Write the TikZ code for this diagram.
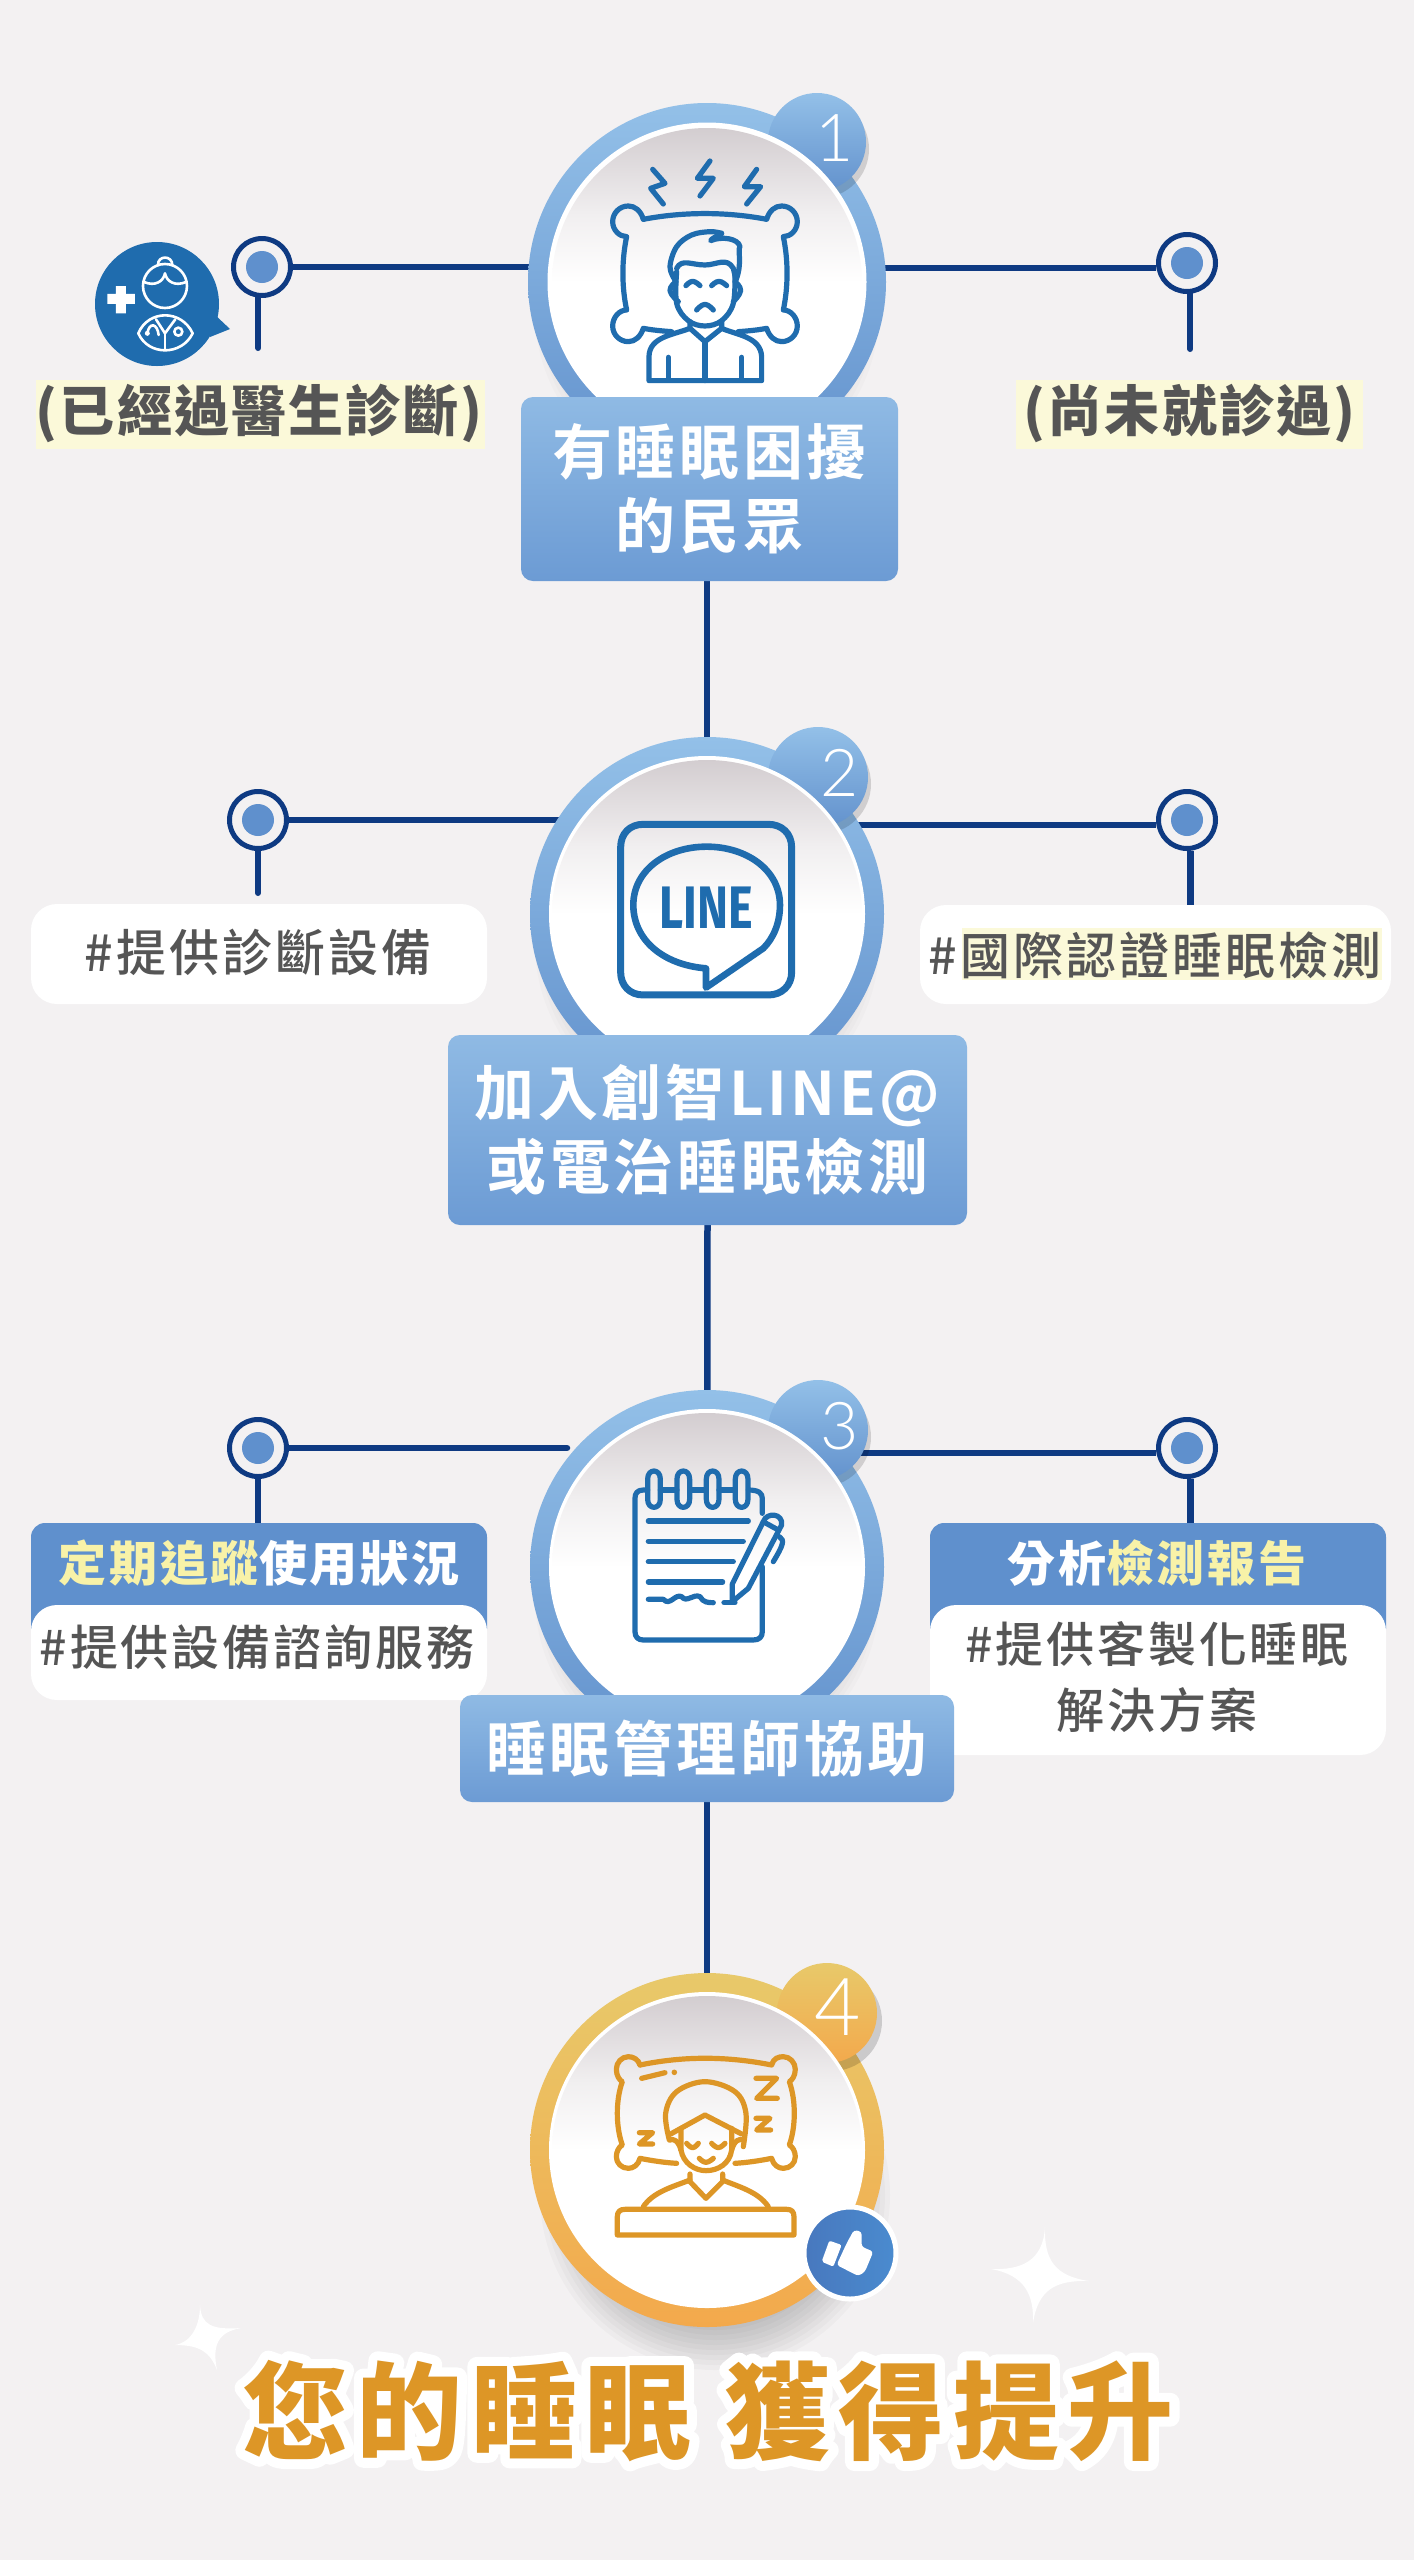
\documentclass[tikz,border=0pt]{standalone}
\usepackage{fontspec}
\setmainfont{Noto Sans CJK TC}
\newfontfamily\boxf{Noto Sans CJK TC}[BoldFont=* Bold,LetterSpace=6]
\newfontfamily\subf{Noto Sans CJK TC}[UprightFont=* Medium,LetterSpace=6]
\newfontfamily\lblf{Noto Sans CJK TC}[LetterSpace=4]
\newfontfamily\titlef{Noto Sans CJK TC}[UprightFont=* Black,LetterSpace=8]
\newfontfamily\halof{Noto Sans CJK TC}[UprightFont=* Black,LetterSpace=8,FakeBold=18]
\newfontfamily\thinf{Lato}[UprightFont=* Light]
\newfontfamily\linef{Fira Sans}
\definecolor{bgc}{HTML}{F3F1F2}
\definecolor{navy}{HTML}{0E3A82}
\definecolor{blueT}{HTML}{93C0E8}
\definecolor{blueB}{HTML}{6392CD}
\definecolor{boxT}{HTML}{8FBAE4}
\definecolor{boxB}{HTML}{6C9BD4}
\definecolor{dotb}{HTML}{5F90CD}
\definecolor{icob}{HTML}{1F6CAE}
\definecolor{goldT}{HTML}{E8C96A}
\definecolor{goldB}{HTML}{F3A94C}
\definecolor{icog}{HTML}{DD9626}
\definecolor{txt}{HTML}{555555}
\definecolor{hlc}{HTML}{FBF9D9}
\definecolor{yel}{HTML}{F8F2A8}
\definecolor{innertop}{HTML}{D3CDD0}
\definecolor{innermid}{HTML}{F1EFF0}
\definecolor{thL}{HTML}{4878BE}
\definecolor{thR}{HTML}{4A8BCF}
\pgfdeclareverticalshading{innerdisc}{100bp}{color(0bp)=(white);color(50bp)=(white);color(61bp)=(innermid);color(75bp)=(innertop);color(100bp)=(innertop)}
\pgfdeclarehorizontalshading{thumbdisc}{100bp}{color(0bp)=(thL);color(25bp)=(thL);color(75bp)=(thR);color(100bp)=(thR)}
\pgfdeclarelayer{bg}\pgfdeclarelayer{conn}
\pgfsetlayers{bg,conn,main}
\tikzset{
 ringb/.style={circle,inner sep=0pt,minimum size=354pt,top color=blueT,bottom color=blueB,draw=none},
 ringg/.style={circle,inner sep=0pt,minimum size=354pt,top color=goldT,bottom color=goldB,draw=none},
 badgeb/.style={circle,inner sep=0pt,minimum size=100pt,top color=blueT,bottom color=blueB},
 badgeg/.style={circle,inner sep=0pt,minimum size=100pt,top color=goldT,bottom color=goldB},
 whited/.style={circle,inner sep=0pt,minimum size=319pt,fill=white},
 innerd/.style={circle,inner sep=0pt,minimum size=310pt,shading=innerdisc},
 numt/.style={inner sep=0pt,text=white,font=\fontsize{66}{66}\selectfont\thinf},
 bluebox/.style={rectangle,rounded corners=12pt,inner sep=0pt,top color=boxT,bottom color=boxB,text=white,align=center,font=\fontsize{60}{74}\selectfont\boxf\bfseries},
 dotn/.style={circle,inner sep=0pt,minimum size=57pt,draw=navy,line width=5pt,fill=bgc},
 dotc/.style={circle,inner sep=0pt,minimum size=32pt,fill=dotb},
 conn/.style={draw=navy,line width=6.5pt},
 stub/.style={draw=navy,line width=6pt,line cap=round},
 hl/.style={rectangle,inner sep=0pt,fill=hlc},
 lbl/.style={inner sep=0pt,text=txt,font=\fontsize{55}{60}\selectfont\lblf\bfseries},
 card/.style={rectangle,rounded corners=26pt,inner sep=0pt,fill=white},
 head/.style={rectangle,rounded corners=14pt,inner sep=0pt,fill=dotb},
 headt/.style={inner sep=0pt,text=white,font=\fontsize{48}{50}\selectfont\subf\bfseries},
 subt/.style={inner sep=0pt,text=txt,align=center,font=\fontsize{48}{66}\selectfont\subf},
 subw/.style={inner sep=0pt,text=txt,font=\fontsize{50}{50}\selectfont\subf},
 icon/.style={draw=icob,line width=5.2pt,line cap=round,line join=round},
 icong/.style={draw=icog,line width=5.2pt,line cap=round,line join=round},
 wst/.style={draw=white,line width=2.6pt,line cap=round,line join=round},
}
\begin{document}
\begin{tikzpicture}[x=1pt,y=-1pt]
\useasboundingbox (0,0) rectangle (1414,2560);
\begin{pgfonlayer}{bg}
\fill[bgc] (0,0) rectangle (1414,2560);
\foreach \cy in {282,914,1567}{
 \foreach \r in {172,168,...,140}{\fill[black,opacity=.014] (707,\cy+30) circle[radius=\r pt];}
}
\foreach \r in {175,170,...,125}{\fill[black,opacity=.022] (715,2195) circle[radius=\r pt];}
\end{pgfonlayer}

% ---------- step 1
\node[ringb,minimum size=358pt] (ring1) at (707,282) {};
\fill[black,opacity=.14] (820,149) circle[radius=49pt];
\node[badgeb,minimum size=98pt] (badge1) at (817,142) {};
\node[whited] (wd1) at (707,282) {};
\node[innerd] (in1) at (707,283) {};
\node[numt] (num1) at (835,138) {1};
\begin{scope}[shift={(500,80)},x=.3333pt,y=-.3333pt]
\draw[icon] (458,268) -- (495,310) -- (452,325) -- (490,372);
\draw[icon] (630,243) -- (592,295) -- (640,295) -- (600,348);
\draw[icon] (770,268) -- (733,320) -- (782,320) -- (740,372);
\draw[icon] (430,418) .. controls (550,395) and (680,395) .. (800,418)
 .. controls (808,392) and (825,378) .. (845,378) .. controls (872,378) and (892,400) .. (892,425) .. controls (892,450) and (872,470) .. (850,470)
 .. controls (865,540) and (865,620) .. (850,690)
 .. controls (872,690) and (892,712) .. (892,738) .. controls (892,765) and (870,785) .. (845,785) .. controls (825,785) and (808,770) .. (800,745)
 .. controls (775,750) and (745,753) .. (715,755);
\draw[icon] (430,418) .. controls (422,392) and (405,378) .. (385,378) .. controls (358,378) and (338,400) .. (338,425) .. controls (338,450) and (358,470) .. (380,470)
 .. controls (365,540) and (365,620) .. (380,690)
 .. controls (358,690) and (338,712) .. (338,738) .. controls (338,765) and (360,785) .. (385,785) .. controls (405,785) and (422,770) .. (430,745)
 .. controls (455,750) and (485,753) .. (515,755);
\draw[icon] plot[smooth,tension=.6] coordinates {(525,600) (510,560) (530,500) (575,465) (630,455) (665,460)};
\draw[icon] (665,460) .. controls (650,470) and (635,475) .. (632,482) .. controls (665,468) and (715,475) .. (720,500) .. controls (712,510) and (728,550) .. (708,600);
\draw[icon] (530,565) .. controls (545,535) and (575,555) .. (615,555) .. controls (650,555) and (680,530) .. (700,565) -- (708,600);
\draw[icon] plot[smooth,tension=.6] coordinates {(530,575) (530,670) (565,722) (615,738) (665,722) (700,670) (705,575)};
\draw[icon] plot[smooth,tension=.8] coordinates {(528,605) (510,632) (535,665)};
\draw[icon] plot[smooth,tension=.8] coordinates {(705,605) (722,632) (700,665)};
\draw[icon] plot[smooth,tension=.8] coordinates {(558,617) (578,604) (600,617)};
\draw[icon] plot[smooth,tension=.8] coordinates {(635,617) (657,604) (680,617)};
\draw[icon] plot[smooth,tension=.8] coordinates {(590,690) (615,673) (640,690)};
\draw[icon] (570,725) -- (570,745) -- (615,785) -- (665,745) -- (665,725);
\draw[icon] (615,785) -- (615,902);
\draw[icon] (570,745) .. controls (520,765) and (448,770) .. (447,830) -- (447,902) -- (785,902) -- (785,830) .. controls (782,770) and (710,765) .. (665,745);
\draw[icon] (505,832) -- (505,900);
\draw[icon] (725,832) -- (725,900);
\end{scope}
\node[bluebox,minimum width=377pt,minimum height=184pt] (box1) at (709.5,489) {有睡眠困擾\\的民眾};

\node[dotn] (dl1) at (262,267) {};
\node[dotc] (dl1c) at (dl1.center) {};
\node[dotn] (dr1) at (1187,263) {};
\node[dotc] (dr1c) at (dr1.center) {};
\coordinate (vl1) at (258,348);
\coordinate (vr1) at (1190,349);
% doctor bubble
\node[circle,inner sep=0pt,minimum size=124pt,fill=icob] (doc) at (157,304) {};
\fill[icob] (213,313) -- (230,329) -- (210,337) -- cycle;
\begin{scope}[shift={(70,220)},x=.3333pt,y=-.3333pt]
\fill[white] (138,198) -- (168,198) -- (168,222) -- (195,222) -- (195,252) -- (168,252) -- (168,280) -- (138,280) -- (138,252) -- (112,252) -- (112,222) -- (138,222) -- cycle;
\draw[wst] (285,198) circle[radius=22pt];
\draw[wst] (264,136) .. controls (262,105) and (308,105) .. (307,136);
\draw[wst] (222,186) .. controls (255,200) and (280,185) .. (285,160) .. controls (290,185) and (315,200) .. (348,186);
\draw[wst] (205,340) .. controls (235,268) and (335,268) .. (368,340) .. controls (335,408) and (235,408) .. (205,340) -- cycle;
\draw[wst] (285,340) -- (285,388);
\draw[wst] (258,298) -- (285,340) -- (316,298);
\draw[wst] (325,335) circle[radius=4pt];
\draw[wst] (232,340) .. controls (238,305) and (262,310) .. (266,345);
\fill[white] (232,340) circle[radius=2.5pt];
\end{scope}
\node[hl,minimum width=449pt,minimum height=69pt] (hl1l) at (260.5,414.5) {};
\node[lbl] (lb1l) at (259,413.5) {(已經過醫生診斷)};
\node[hl,minimum width=347pt,minimum height=69pt] (hl1r) at (1189.5,414.5) {};
\node[lbl] (lb1r) at (1189.5,413.5) {(尚未就診過)};

% ---------- step 2
\node[ringb] (ring2) at (707,914) {};
\fill[black,opacity=.14] (821,784) circle[radius=50pt];
\node[badgeb] (badge2) at (818,777) {};
\node[whited,minimum size=316pt] (wd2) at (707,914) {};
\node[innerd] (in2) at (707,915) {};
\node[numt] (num2) at (840,773) {2};
\begin{scope}[shift={(500,720)},x=.3333pt,y=-.3333pt]
\draw[icon,line width=7pt] (362,382) .. controls (362,340) and (390,313) .. (430,313) -- (805,313) .. controls (845,313) and (875,340) .. (875,382) -- (875,757) .. controls (875,797) and (845,825) .. (805,825) -- (430,825) .. controls (390,825) and (362,797) .. (362,757) -- cycle;
\draw[icon,line width=6.6pt] (618,745) .. controls (490,735) and (400,660) .. (400,555) .. controls (400,450) and (500,380) .. (620,380) .. controls (740,380) and (840,450) .. (840,555) .. controls (840,610) and (820,655) .. (790,685) -- (618,803) -- cycle;
\end{scope}
\node[inner sep=0pt,text=icob,xscale=.78,font=\fontsize{60}{60}\selectfont\linef\bfseries] (linet) at (706,908) {LINE};
\node[bluebox,minimum width=519pt,minimum height=190pt] (box2) at (707.5,1130) {加入創智LINE@\\或電治睡眠檢測};

\node[dotn] (dl2) at (258,820) {};
\node[dotc] (dl2c) at (dl2.center) {};
\node[dotn] (dr2) at (1187,820) {};
\node[dotc] (dr2c) at (dr2.center) {};
\coordinate (vl2) at (258,893);
\node[card,minimum width=456pt,minimum height=100pt] (cl2) at (259,954) {};
\node[card,minimum width=471pt,minimum height=99pt] (cr2) at (1155.5,954.5) {};
\node[hl,minimum width=420pt,minimum height=52pt] (hl2r) at (1172,954) {};
\node[subw] (tl2) at (258,953) {\#提供診斷設備};
\node[subw] (tr2) at (1155,955) {\#國際認證睡眠檢測};

% ---------- step 3
\node[ringb] (ring3) at (707,1567) {};
\fill[black,opacity=.14] (821,1437) circle[radius=50pt];
\node[badgeb] (badge3) at (818,1430) {};
\node[whited,minimum size=316pt] (wd3) at (707,1567) {};
\node[innerd] (in3) at (707,1568) {};
\node[numt] (num3) at (840,1426) {3};
\begin{scope}[shift={(500,1380)},x=.3333pt,y=-.3333pt]
\draw[icon] (443,330) -- (430,330) .. controls (412,330) and (405,340) .. (405,355) -- (405,755) .. controls (405,772) and (415,780) .. (430,780) -- (760,780) .. controls (777,780) and (787,772) .. (787,755) -- (787,560);
\draw[icon] (787,400) -- (787,355) .. controls (787,340) and (777,330) .. (745,330);
\foreach \c in {462,550,638,725}{
 \draw[icon] (\c-19,297) .. controls (\c-19,265) and (\c+19,265) .. (\c+19,297) -- (\c+19,358) .. controls (\c+19,390) and (\c-19,390) .. (\c-19,358) -- cycle;
}
\draw[icon] (481,330) -- (531,330) (569,330) -- (619,330) (657,330) -- (706,330);
\draw[icon] (445,423) -- (745,423);
\draw[icon] (445,484) -- (730,484);
\draw[icon] (445,545) -- (700,545);
\draw[icon] (445,606) -- (668,606);
\draw[icon] (445,658) -- (490,658) .. controls (510,680) and (525,640) .. (545,650) .. controls (560,670) and (580,640) .. (600,650) .. controls (610,668) and (625,668) .. (640,668);
\draw[icon] (672,668) -- (705,668);
\draw[icon] (697,665) -- (697,612) -- (790,425) .. controls (800,395) and (850,400) .. (845,435) -- (745,625) -- cycle;
\draw[icon] (795,428) -- (835,450);
\draw[icon] (838,470) .. controls (855,480) and (850,495) .. (820,545);
\end{scope}

\node[dotn] (dl3) at (258,1448) {};
\node[dotc] (dl3c) at (dl3.center) {};
\node[dotn] (dr3) at (1187,1448) {};
\node[dotc] (dr3c) at (dr3.center) {};
\coordinate (el3) at (567,1448);
\node[head,minimum width=456pt,minimum height=120pt] (hl3) at (259,1583) {};
\node[head,minimum width=456pt,minimum height=120pt] (hr3) at (1158,1583) {};
\node[headt] (htl3) at (259,1563) {\textcolor{yel}{定期追蹤}使用狀況};
\node[headt] (htr3) at (1157,1563) {分析\textcolor{yel}{檢測報告}};
\node[card,minimum width=456pt,minimum height=95pt] (cl3) at (259,1652.5) {};
\node[card,minimum width=456pt,minimum height=150pt] (cr3) at (1158,1680) {};
\node[subt] (tl3) at (257,1647) {\#提供設備諮詢服務};
\node[subt] (tr3) at (1157,1677) {\#提供客製化睡眠\\解決方案};
\node[bluebox,minimum width=494pt,minimum height=107pt] (box3) at (707,1748.5) {睡眠管理師協助};

% ---------- step 4
\node[ringg] (ring4) at (707,2150) {};
\fill[black,opacity=.16] (832,2021) circle[radius=50pt];
\node[badgeg] (badge4) at (827,2013) {};
\node[whited,minimum size=316pt] (wd4) at (707,2150) {};
\node[innerd] (in4) at (707,2151) {};
\node[numt,font=\fontsize{80}{80}\selectfont\thinf] (num4) at (838,2007) {4};
\begin{scope}[shift={(500,1950)},x=.3333pt,y=-.3333pt]
\draw[icong] (420,345) .. controls (550,318) and (680,318) .. (815,345)
 .. controls (820,325) and (835,320) .. (850,320) .. controls (870,320) and (886,338) .. (886,358) .. controls (886,378) and (875,392) .. (868,395)
 .. controls (888,450) and (888,530) .. (868,585)
 .. controls (878,590) and (886,605) .. (886,620) .. controls (886,640) and (870,655) .. (850,655) .. controls (835,655) and (820,645) .. (815,625)
 .. controls (780,632) and (740,638) .. (705,640);
\draw[icong] (420,345) .. controls (415,328) and (400,320) .. (385,320) .. controls (365,320) and (349,338) .. (349,358) .. controls (349,378) and (360,392) .. (367,395)
 .. controls (347,450) and (347,530) .. (367,585)
 .. controls (357,590) and (349,605) .. (349,620) .. controls (349,640) and (365,655) .. (385,655) .. controls (400,655) and (415,645) .. (420,625)
 .. controls (455,632) and (495,638) .. (530,640);
\draw[icong] (425,385) -- (495,368);
\fill[icog] (523,367) circle[radius=2.8pt];
\draw[icong] (768,385) -- (830,385) -- (770,445) -- (832,445);
\draw[icong] (768,505) -- (810,505) -- (770,540) -- (812,540);
\draw[icong] (418,548) -- (458,548) -- (418,582) -- (458,582);
\draw[icong] plot[smooth,tension=.6] coordinates {(508,570) (497,490) (530,425) (615,395) (705,425) (738,490) (730,590)};
\draw[icong] (512,552) -- (615,495) -- (725,552);
\draw[icong] (543,535) -- (543,600) .. controls (550,640) and (585,662) .. (618,662) .. controls (655,662) and (690,640) .. (695,600) -- (695,535);
\draw[icong] (510,570) .. controls (518,565) and (535,570) .. (543,600);
\draw[icong] (728,570) .. controls (720,565) and (703,570) .. (695,600);
\draw[icong] plot[smooth,tension=.8] coordinates {(560,580) (578,593) (595,580)};
\draw[icong] plot[smooth,tension=.8] coordinates {(635,580) (655,593) (675,580)};
\draw[icong] plot[smooth,tension=.8] coordinates {(598,625) (618,637) (640,625)};
\draw[icong] (570,672) -- (570,695) -- (618,745) -- (668,695) -- (668,672);
\draw[icong] (430,770) .. controls (460,725) and (520,710) .. (570,690);
\draw[icong] (805,770) .. controls (775,725) and (715,710) .. (668,690);
\draw[icong] (352,855) -- (352,800) .. controls (352,785) and (360,778) .. (375,778) -- (860,778) .. controls (875,778) and (882,785) .. (882,800) -- (882,855) -- cycle;
\end{scope}
\node[circle,inner sep=0pt,minimum size=92pt,shading=thumbdisc,draw=white,line width=5pt] (thumb) at (850,2253) {};
\begin{scope}[shift={(500,1950)},x=.3333pt,y=-.3333pt]
\fill[white,rounded corners=2pt] (988,872) -- (1025,885) -- (1000,950) -- (965,935) -- cycle;
\fill[white,rounded corners=3pt] (1010,945) -- (1040,880) -- (1062,840) -- (1085,845) -- (1085,890) -- (1120,905) -- (1095,965) -- (1075,978) -- cycle;
\end{scope}

% stars
\fill[white] (1045,2227) .. controls (1044,2260) and (1055,2276) .. (1089,2281) .. controls (1055,2280) and (1038,2290) .. (1033,2323) .. controls (1034,2295) and (1025,2275) .. (991,2269) .. controls (1020,2270) and (1043,2262) .. (1045,2227) -- cycle;
\fill[white] (200,2305) .. controls (201,2325) and (212,2330) .. (241,2328) .. controls (218,2332) and (212,2345) .. (217,2370) .. controls (210,2352) and (200,2345) .. (175,2345) .. controls (192,2342) and (200,2325) .. (200,2305) -- cycle;

% title
\node[inner sep=0pt,text=white,font=\fontsize{106}{110}\selectfont\halof] (titleh) at (708,2411) {\special{pdf:code 1 j 1 J}您的睡眠\ 獲得提升};
\node[inner sep=0pt,text=icog,font=\fontsize{106}{110}\selectfont\titlef] (title) at (708,2411) {您的睡眠\ 獲得提升};

% ---------- connectors
\begin{pgfonlayer}{conn}
\draw[conn] (ring2.north |- box1.south) -- (ring2.center);
\draw[conn] (box2.south) -- (ring3.center);
\draw[conn] (box3.south) -- (ring4.center);
\draw[conn] (dl1.east) -- (dl1.east -| ring1.center);
\draw[conn] (dr1.189) -- (dr1.189 -| ring1.center);
\draw[conn] (dl2.east) -- (dl2.east -| ring2.center);
\draw[conn] (dr2.189) -- (dr2.189 -| ring2.center);
\draw[conn,line cap=round] (dl3.east) -- (el3);
\draw[conn] (dr3.189) -- (dr3.189 -| ring3.center);
\draw[stub] (dl1.263) -- (dl1.263 |- vl1);
\draw[stub] (dr1.-84) -- (dr1.-84 |- vr1);
\draw[stub] (dl2.south) -- (vl2);
\draw[conn] (dr2.-84) -- (dr2.-84 |- cr2.north);
\draw[conn] (dl3.south) -- (dl3.south |- hl3.north);
\draw[conn] (dr3.-84) -- (dr3.-84 |- hr3.north);
\end{pgfonlayer}
\end{tikzpicture}
\end{document}
